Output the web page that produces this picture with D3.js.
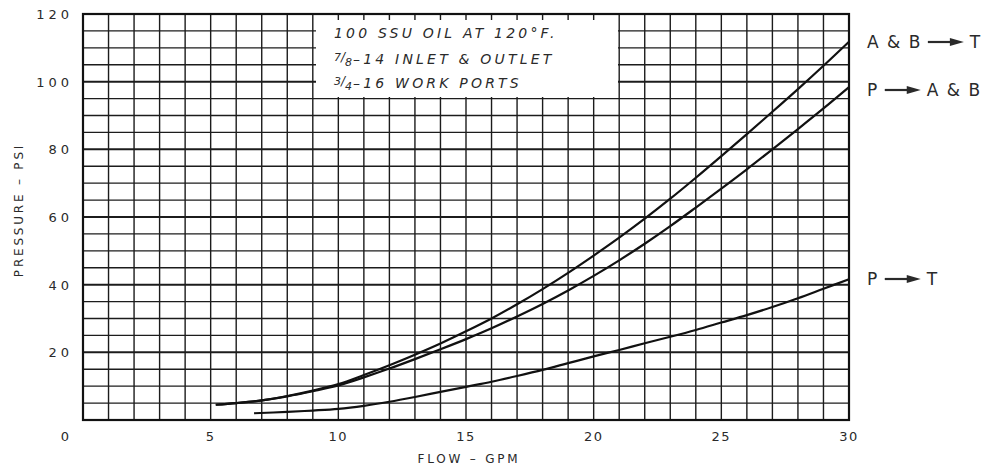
<!DOCTYPE html>
<html><head><meta charset="utf-8">
<script src="https://cdn.jsdelivr.net/npm/d3@7"></script>
<style>
html,body{margin:0;padding:0;background:#fff;}
svg{display:block;}
text{font-family:"DejaVu Sans",sans-serif;fill:#2a2a2a;}
</style></head>
<body>
<svg id="chart" width="996" height="470"></svg>
<script>
// ---- data ----
const xTicks = [5, 10, 15, 20, 25, 30];
const yTicks = [20, 40, 60, 80, 100, 120];
const seriesNames = ["A & B", "T", "P", "A & B", "P", "T"];
const abToT = [[5.2,4.5],[6,5],[7,5.8],[8,7.1],[9,8.7],[10,10.6],[11,13.3],[12,16.2],[13,19.3],[14,22.6],[15,26.2],[16,30],[17,34.2],[18,38.7],[19,43.5],[20,48.6],[21,53.9],[22,59.5],[23,65.4],[24,71.6],[25,78],[26,84.5],[27,91.1],[28,97.8],[29,104.7],[30,111.8]];
const pToAB = [[5.2,4.5],[6,5],[7,5.8],[8,7],[9,8.5],[10,10.2],[11,12.6],[12,15.2],[13,18],[14,20.9],[15,23.9],[16,27.1],[17,30.6],[18,34.3],[19,38.3],[20,42.6],[21,47.2],[22,52.1],[23,57.3],[24,62.8],[25,68.4],[26,74.1],[27,80],[28,86],[29,92.1],[30,98.4]];
const pToT = [[6.7,2.0],[8,2.4],[9,2.8],[10,3.3],[11,4.2],[12,5.4],[13,6.8],[14,8.3],[15,9.8],[16,11.3],[17,13],[18,14.8],[19,16.8],[20,18.8],[21,20.7],[22,22.7],[23,24.6],[24,26.6],[25,28.8],[26,31],[27,33.4],[28,36],[29,38.8],[30,41.6]];
const noteFractions = [null, ["7","8"], ["3","4"]];
const noteLines = ["100 SSU OIL AT 120°F.", "–14 INLET & OUTLET", "–16 WORK PORTS"];
const xTitle = "FLOW – GPM";
const yTitle = "PRESSURE – PSI";

// ---- layout ----
const svg = d3.select("#chart");
const L = 83, R = 849, T = 14, B = 420;
const x = d3.scaleLinear().domain([0,30]).range([L,R]);
const y = d3.scaleLinear().domain([0,120]).range([B,T]);

// grid
const g = svg.append("g");
g.selectAll("line.v").data(d3.range(0,31,1)).join("line")
  .attr("x1",d=>x(d)).attr("x2",d=>x(d)).attr("y1",T).attr("y2",B)
  .attr("stroke","#1c1c1c").attr("stroke-width",1.4);
g.selectAll("line.h").data(d3.range(0,121,5)).join("line")
  .attr("y1",d=>y(d)).attr("y2",d=>y(d)).attr("x1",L).attr("x2",R)
  .attr("stroke","#1c1c1c").attr("stroke-width",d=>d%20===0?2:1.3);
g.append("rect").attr("x",L).attr("y",T).attr("width",R-L).attr("height",B-T)
  .attr("fill","none").attr("stroke","#111").attr("stroke-width",2.2);

// note box
svg.append("rect").attr("x",316).attr("y",20).attr("width",302).attr("height",77).attr("fill","#fff");
noteLines.forEach((d,i)=>{
  const t = svg.append("text").attr("x",334).attr("y",[38,64,88][i])
    .attr("font-size",14).attr("letter-spacing",3.2).attr("font-style","italic");
  const f = noteFractions[i];
  if (f) {
    t.append("tspan").attr("font-size",11).attr("dy",-3).attr("letter-spacing",0).text(f[0]);
    t.append("tspan").attr("font-size",12).attr("letter-spacing",0).text("/");
    t.append("tspan").attr("font-size",11).attr("dy",5).attr("letter-spacing",1).text(f[1]);
    t.append("tspan").attr("dy",-2).text(d);
  } else {
    t.text(d);
  }
});

// curves
const line = d3.line().x(d=>x(d[0])).y(d=>y(d[1])).curve(d3.curveCatmullRom.alpha(0.5));
[abToT,pToAB,pToT].forEach(s=>{
  svg.append("path").attr("d",line(s)).attr("fill","none")
    .attr("stroke","#111").attr("stroke-width",2.2);
});

// axis labels
svg.selectAll("text.xt").data(xTicks).join("text")
  .attr("x",d=>x(d)).attr("y",441).attr("text-anchor","middle")
  .attr("font-size",13).attr("letter-spacing",1.5).text(d=>d);
svg.append("text").attr("x",x(0)-18).attr("y",441).attr("text-anchor","middle")
  .attr("font-size",13).text("0");
svg.selectAll("text.yt").data(yTicks).join("text")
  .attr("x",73).attr("y",d=>y(d)+5).attr("text-anchor","end")
  .attr("font-size",13).attr("letter-spacing",4).text(d=>d);
svg.append("text").attr("x",469).attr("y",463).attr("text-anchor","middle")
  .attr("font-size",12).attr("letter-spacing",2.8).text(xTitle);
svg.append("text").attr("transform","translate(23,210) rotate(-90)")
  .attr("text-anchor","middle").attr("font-size",12).attr("letter-spacing",2.8).text(yTitle);

// series labels with arrows
function label(x0, yc, left, right){
  const t1 = svg.append("text").attr("x",x0).attr("y",yc+6).attr("font-size",17).attr("letter-spacing",1.5).text(left);
  const w = t1.node().getComputedTextLength();
  const a0 = x0 + w + 6, a1 = a0 + 36;
  svg.append("line").attr("x1",a0).attr("x2",a1-12).attr("y1",yc).attr("y2",yc)
    .attr("stroke","#2a2a2a").attr("stroke-width",2.2);
  svg.append("path").attr("d",`M${a1-14},${yc-4}L${a1},${yc}L${a1-14},${yc+4}Z`).attr("fill","#2a2a2a");
  svg.append("text").attr("x",a1+6).attr("y",yc+6).attr("font-size",17).attr("letter-spacing",1.5).text(right);
}
label(867, 42, seriesNames[0], seriesNames[1]);
label(867, 90, seriesNames[2], seriesNames[3]);
label(867, 279, seriesNames[4], seriesNames[5]);
</script>
</body></html>
